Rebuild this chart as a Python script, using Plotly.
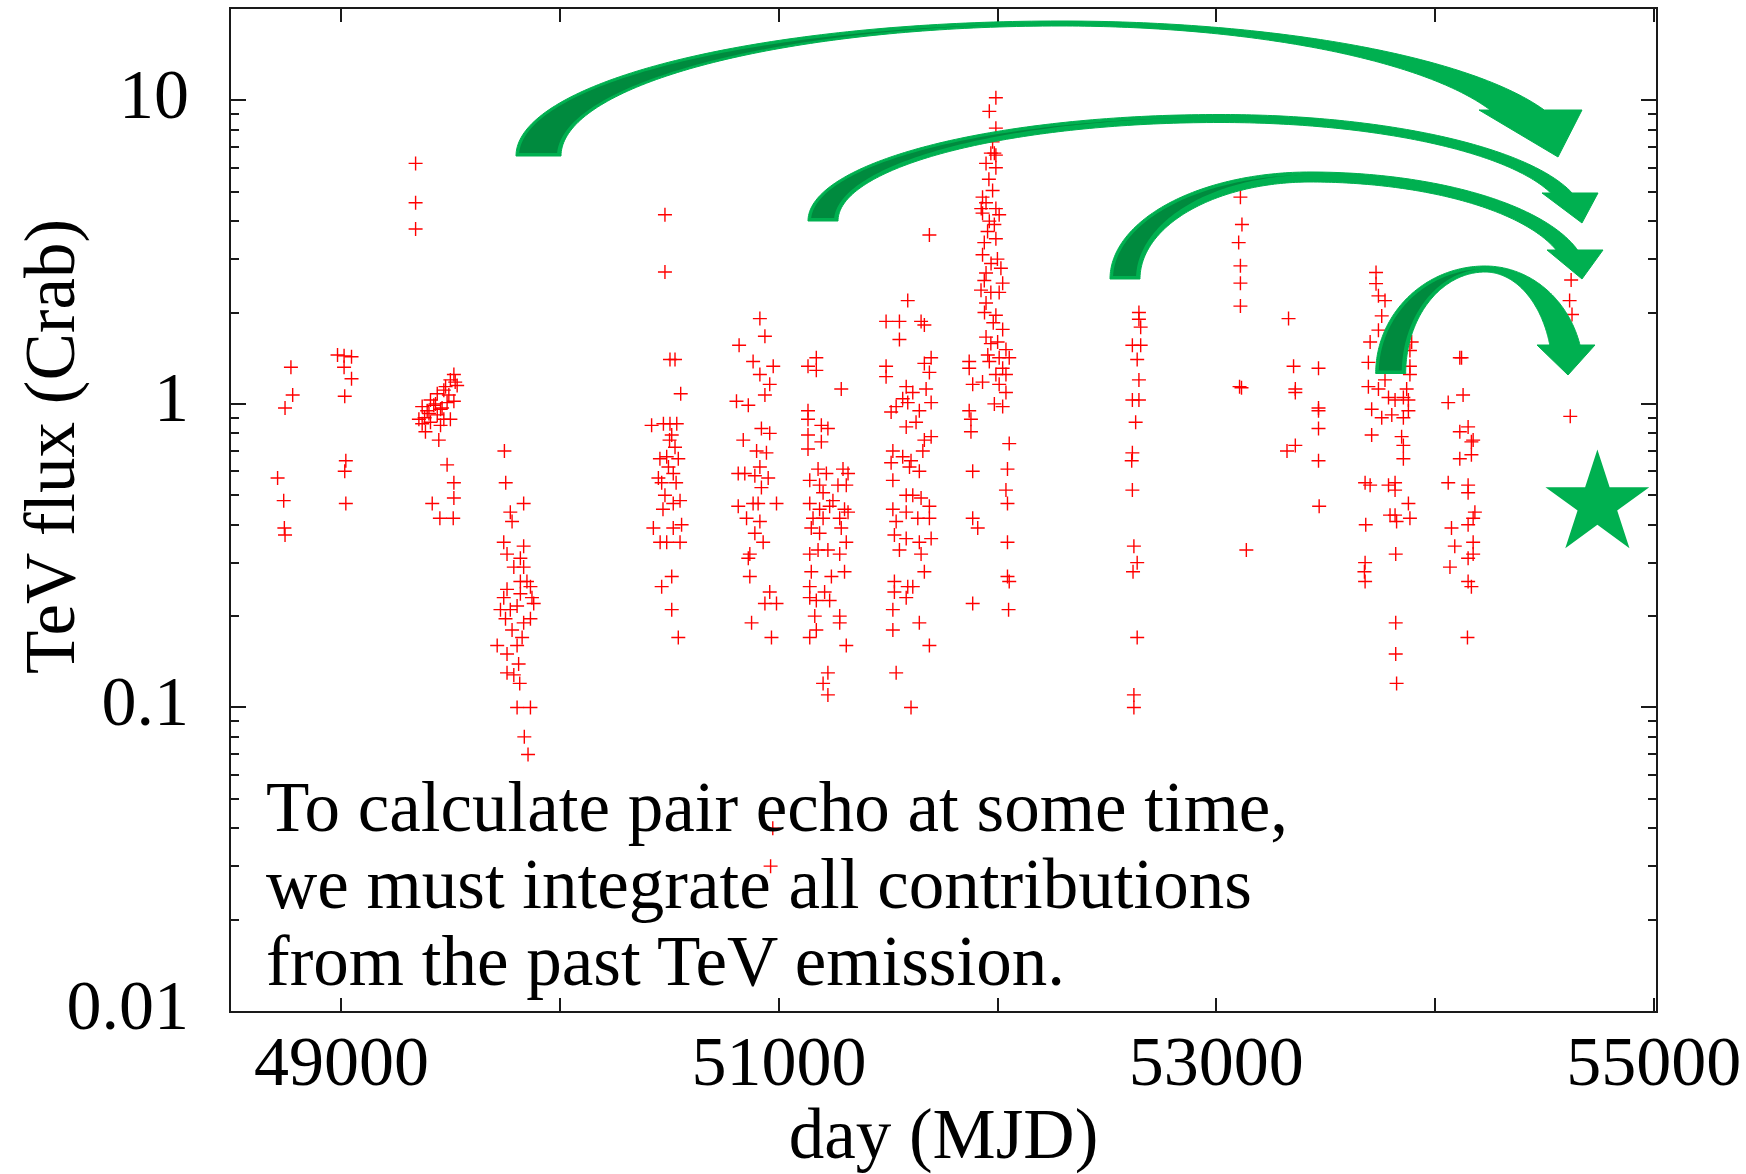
import math
import plotly.graph_objects as go

# ---------------- data ----------------
MJD_S1 = [48708, 48736, 48739, 48742, 48742, 48769, 48777]
FLUX_S1 = [0.57, 0.48, 0.39, 0.37, 0.97, 1.32, 1.07]

MJD_S2 = [48982, 49012, 49046, 49012, 49046, 49015, 49020, 49015, 49020]
FLUX_S2 = [1.45, 1.44, 1.43, 1.32, 1.21, 1.06, 0.65, 0.60, 0.47]

MJD_S3 = [49339, 49339, 49339]
FLUX_S3 = [6.2, 4.6, 3.77]

MJD_S4 = [49354, 49369, 49369, 49380, 49384, 49392, 49400, 49407, 49407, 49415,
          49422, 49430, 49438, 49438, 49445, 49450, 49453, 49453, 49460, 49468,
          49468, 49476, 49483, 49483, 49491, 49498, 49498, 49511, 49514, 49514,
          49514, 49514, 49520, 49529]
FLUX_S4 = [0.89, 0.98, 0.86, 0.90, 0.81, 0.95, 0.93, 1.03, 0.87, 0.47,
           0.99, 1.00, 1.08, 0.92, 0.76, 0.42, 0.96, 0.85, 0.97, 1.11,
           0.89, 1.14, 1.01, 0.63, 1.07, 1.20, 0.89, 0.42, 1.25, 1.02,
           0.55, 0.49, 1.18, 1.15]

MJD_S5 = [49745, 49751, 49833, 49772, 49780, 49742, 49757, 49833, 49818, 49788,
          49833, 49848, 49818, 49864, 49879, 49757, 49742, 49727, 49772, 49803,
          49864, 49833, 49780, 49826, 49712, 49803, 49757, 49810, 49757, 49788,
          49815, 49803, 49864, 49836, 49853, 49871, 49818, 49750]
FLUX_S5 = [0.70, 0.55, 0.47, 0.44, 0.41, 0.35, 0.32, 0.34, 0.31, 0.29,
           0.29, 0.26, 0.26, 0.25, 0.22, 0.245, 0.23, 0.21, 0.21, 0.216,
           0.196, 0.19, 0.18, 0.17, 0.16, 0.16, 0.15, 0.139, 0.13, 0.128,
           0.12, 0.10, 0.10, 0.080, 0.070, 0.23, 0.237, 0.196]

MJD_S6 = [50479, 50479, 50502, 50525, 50551, 50418, 50472, 50502, 50533, 50510,
          50456, 50487, 50525, 50540, 50517, 50449, 50464, 50479, 50548, 50517,
          50555, 50517, 50426, 50457, 50487, 50548, 50510, 50464, 50510, 50540,
          50495, 50530, 50470, 50500]
FLUX_S6 = [4.2, 2.72, 1.40, 1.40, 1.08, 0.85, 0.86, 0.86, 0.86, 0.79,
           0.66, 0.67, 0.72, 0.66, 0.59, 0.57, 0.55, 0.50, 0.48, 0.47,
           0.40, 0.39, 0.39, 0.35, 0.35, 0.35, 0.27, 0.25, 0.21, 0.17,
           0.62, 0.55, 0.45, 0.76]

MJD_S7 = [50913, 50936, 50882, 50974, 50913, 50958, 50936, 50860, 50837, 50920,
          50958, 50898, 50943, 50913, 50844, 50890, 50951, 50905, 50989, 50852,
          50913, 50890, 50928, 50867, 50860, 50867, 50958, 50936, 50989, 50875,
          50966, 50882, 50920, 50818, 50806, 50814, 50814, 50972, 50962]
FLUX_S7 = [1.91, 1.67, 1.38, 1.33, 1.25, 1.16, 1.07, 0.99, 0.76, 0.83,
           0.80, 0.70, 0.69, 0.62, 0.59, 0.58, 0.57, 0.47, 0.47, 0.42,
           0.41, 0.375, 0.35, 0.32, 0.31, 0.27, 0.24, 0.22, 0.22, 0.19,
           0.17, 0.47, 0.53, 1.56, 1.02, 0.59, 0.46, 0.040, 0.030]

MJD_S8 = [51171, 51133, 51171, 51285, 51133, 51133, 51194, 51224, 51133, 51194,
          51133, 51179, 51217, 51293, 51316, 51141, 51186, 51270, 51308, 51202,
          51247, 51300, 51141, 51186, 51232, 51316, 51156, 51202, 51278, 51148,
          51186, 51285, 51308, 51141, 51179, 51224, 51278, 51148, 51300, 51240,
          51141, 51209, 51171, 51232, 51141, 51164, 51278, 51278, 51141, 51171,
          51308, 51224, 51202, 51224]
FLUX_S8 = [1.42, 1.33, 1.29, 1.12, 0.95, 0.89, 0.85, 0.83, 0.79, 0.75,
           0.71, 0.61, 0.59, 0.61, 0.59, 0.56, 0.54, 0.54, 0.54, 0.51,
           0.48, 0.45, 0.47, 0.45, 0.46, 0.44, 0.42, 0.42, 0.42, 0.39,
           0.375, 0.39, 0.35, 0.32, 0.33, 0.33, 0.32, 0.28, 0.28, 0.27,
           0.25, 0.24, 0.225, 0.225, 0.23, 0.20, 0.20, 0.19, 0.17, 0.18,
           0.16, 0.13, 0.12, 0.11]

MJD_S9 = [51589, 51490, 51551, 51650, 51665, 51551, 51696, 51665, 51490, 51490,
          51688, 51582, 51612, 51566, 51673, 51589, 51513, 51536, 51642, 51696,
          51582, 51627, 51696, 51665, 51521, 51566, 51604, 51658, 51513, 51597,
          51642, 51521, 51582, 51612, 51650, 51521, 51582, 51688, 51536, 51635,
          51688, 51528, 51582, 51642, 51696, 51551, 51650, 51665, 51528, 51589,
          51612, 51528, 51582, 51521, 51642, 51521, 51688, 51536, 51604, 51688]
FLUX_S9 = [2.19, 1.87, 1.87, 1.87, 1.82, 1.63, 1.42, 1.36, 1.33, 1.23,
           1.27, 1.14, 1.09, 1.04, 1.12, 1.01, 0.94, 0.98, 0.95, 1.01,
           0.84, 0.87, 0.78, 0.76, 0.70, 0.67, 0.65, 0.70, 0.64, 0.62,
           0.60, 0.56, 0.50, 0.50, 0.49, 0.45, 0.44, 0.46, 0.41, 0.42,
           0.42, 0.37, 0.36, 0.35, 0.36, 0.33, 0.32, 0.28, 0.26, 0.25,
           0.25, 0.24, 0.23, 0.21, 0.19, 0.18, 0.16, 0.13, 0.10, 3.6]

MJD_S10 = [51992, 51962, 51992, 51977, 51985, 51969, 51992, 51947, 51992, 51977,
           51931, 51947, 51992, 51931, 52007, 51962, 51985, 51992, 51939, 51931,
           51999, 51947, 51939, 52023, 51924, 51969, 52007, 51947, 51992, 52023,
           51947, 51969, 52038, 52007, 52053, 52023, 51962, 51992, 52038, 51870,
           51870, 51886, 51931, 52007, 52038, 51985, 52023, 51870, 51878, 51878,
           52053, 51886, 52045, 52038, 52045, 51886, 51909, 52045, 52045, 52053,
           51886, 52050, 51954, 51970, 51940, 51980, 52000, 51955, 52015, 51925,
           51960]
FLUX_S10 = [10.2, 9.2, 8.1, 7.3, 6.7, 6.7, 6.6, 6.2, 6.0, 5.05,
            4.8, 4.6, 4.4, 4.25, 4.2, 4.0, 3.9, 3.5, 3.4, 3.1,
            3.0, 2.7, 2.55, 2.5, 2.37, 2.33, 2.33, 2.15, 1.96, 1.76,
            1.66, 1.58, 1.51, 1.42, 1.42, 1.31, 1.38, 1.25, 1.25, 1.38,
            1.31, 1.16, 1.18, 1.16, 1.09, 1.0, 0.98, 0.95, 0.89, 0.81,
            0.74, 0.60, 0.61, 0.52, 0.47, 0.42, 0.39, 0.35, 0.27, 0.26,
            0.22, 0.21, 3.7, 2.9, 2.0, 1.85, 1.6, 1.45, 2.8, 4.4,
            5.5]

MJD_S11 = [52646, 52646, 52654, 52616, 52654, 52638, 52646, 52616, 52646, 52631,
           52616, 52613, 52616, 52623, 52638, 52619, 52638, 52623, 52623]
FLUX_S11 = [2.0, 1.9, 1.79, 1.56, 1.56, 1.40, 1.20, 1.03, 1.03, 0.87,
            0.69, 0.65, 0.52, 0.34, 0.30, 0.28, 0.17, 0.11, 0.10]

MJD_S12 = [53110, 53117, 53102, 53110, 53110, 53110, 53106, 53115, 53137]
FLUX_S12 = [4.8, 3.9, 3.4, 2.85, 2.5, 2.1, 1.14, 1.13, 0.33]

MJD_S13 = [53330, 53353, 53467, 53361, 53361, 53467, 53467, 53467, 53361, 53323,
           53467, 53470]
FLUX_S13 = [1.91, 1.33, 1.31, 1.12, 1.09, 0.97, 0.95, 0.83, 0.73, 0.70,
            0.65, 0.46]

MJD_S14 = [53730, 53730, 53741, 53771, 53756, 53741, 53703, 53893, 53885, 53695,
           53885, 53885, 53771, 53695, 53741, 53870, 53787, 53855, 53878, 53817,
           53710, 53756, 53802, 53878, 53855, 53710, 53847, 53855, 53855, 53680,
           53703, 53787, 53817, 53817, 53878, 53817, 53794, 53885, 53824, 53683,
           53820, 53680, 53677, 53680, 53820, 53820, 53824]
FLUX_S14 = [2.71, 2.49, 2.27, 2.19, 1.95, 1.75, 1.60, 1.60, 1.50, 1.37,
            1.33, 1.25, 1.20, 1.14, 1.12, 1.12, 1.05, 1.05, 1.03, 1.03,
            0.96, 0.90, 0.92, 0.95, 0.90, 0.79, 0.78, 0.73, 0.66, 0.55,
            0.54, 0.54, 0.55, 0.52, 0.47, 0.43, 0.43, 0.42, 0.41, 0.40,
            0.32, 0.30, 0.28, 0.26, 0.19, 0.15, 0.12]

MJD_S15 = [54121, 54113, 54060, 54128, 54151, 54113, 54174, 54166, 54166, 54113,
           54060, 54151, 54151, 54182, 54174, 54151, 54075, 54174, 54090, 54174,
           54151, 54068, 54151, 54166, 54148]
FLUX_S15 = [1.42, 1.42, 1.01, 1.07, 0.84, 0.81, 0.76, 0.75, 0.68, 0.66,
            0.55, 0.54, 0.51, 0.44, 0.42, 0.40, 0.39, 0.35, 0.34, 0.32,
            0.31, 0.29, 0.26, 0.25, 0.17]

MJD_S16 = [54622, 54615, 54626, 54618]
FLUX_S16 = [2.56, 2.19, 1.97, 0.91]

STAR_MJD = [54742]
STAR_FLUX = [0.468]

X_TICKS = [49000, 50000, 51000, 52000, 53000, 54000, 55000]
X_TICK_TEXT = ["49000", "", "51000", "", "53000", "", "55000"]
Y_TICKS = [0.01, 0.1, 1, 10]
Y_TICK_TEXT = ["0.01", "0.1", "1", "10"]

NOTE_LINES = ["To calculate pair echo at some time,",
              "we must integrate all contributions",
              "from the past TeV emission."]

SEASONS_MJD = [MJD_S1, MJD_S2, MJD_S3, MJD_S4, MJD_S5, MJD_S6, MJD_S7, MJD_S8,
               MJD_S9, MJD_S10, MJD_S11, MJD_S12, MJD_S13, MJD_S14, MJD_S15, MJD_S16]
SEASONS_FLUX = [FLUX_S1, FLUX_S2, FLUX_S3, FLUX_S4, FLUX_S5, FLUX_S6, FLUX_S7, FLUX_S8,
                FLUX_S9, FLUX_S10, FLUX_S11, FLUX_S12, FLUX_S13, FLUX_S14, FLUX_S15, FLUX_S16]

mjd_all, flux_all = [], []
for m, f in zip(SEASONS_MJD, SEASONS_FLUX):
    for a, b in zip(m, f):
        mjd_all.append(a)
        flux_all.append(b)

# ---------------- layout geometry ----------------
FIG_W, FIG_H = 1746, 1174
M_L, M_R, M_T, M_B = 231, 90, 9, 163
PW = FIG_W - M_L - M_R
PH = FIG_H - M_T - M_B
FONT = "Liberation Serif"
GREEN = "#00B050"
DARK_GREEN = "#008A3E"
AXIS_COL = "#1a1a1a"


def to_paper(X, Y):
    return (X - M_L) / PW, (FIG_H - M_B - Y) / PH


# decorative curved arrows, in page pixels
ARROWS = [
    dict(cy=156, apex=1060, top=21, aL=544, aR=515, t_tail=45, t_top=5, t_right=55,
         head_y=110, head_xl=1479, head_xr=1582, tip=(1558, 157)),
    dict(cy=221, apex=1220, top=114.5, aL=412, aR=365, t_tail=30, t_top=8, t_right=20,
         head_y=193, head_xl=1542, head_xr=1598, tip=(1582, 223)),
    dict(cy=279, apex=1310, top=172, aL=200, aR=278, t_tail=30, t_top=10, t_right=20,
         head_y=250, head_xl=1547, head_xr=1603, tip=(1582, 279)),
    dict(cy=373.5, apex=1485, top=266, aL=109.3, aR=98.5, t_tail=30, t_top=6, t_right=31,
         head_y=345, head_xl=1537, head_xr=1595, tip=(1568, 375)),
]


def arrow_polys(a):
    cy, ax, b = a["cy"], a["apex"], a["cy"] - a["top"]
    aL, aR = a["aL"], a["aR"]
    bi = b - a["t_top"]
    aLi, aRi = aL - a["t_tail"], aR - a["t_right"]
    yb = a["head_y"]
    n = 90
    body = []
    for k in range(n + 1):
        t = (math.pi / 2) * k / n
        body.append((ax - aL * math.cos(t), cy - b * math.sin(t)))
    to = math.asin((cy - yb) / b)
    for k in range(n + 1):
        t = math.pi / 2 - (math.pi / 2 - to) * k / n
        body.append((ax + aR * math.cos(t), cy - b * math.sin(t)))
    body.append((a["head_xr"], yb))
    body.append(a["tip"])
    body.append((a["head_xl"], yb))
    ti = math.asin((cy - yb) / bi)
    for k in range(n + 1):
        t = ti + (math.pi / 2 - ti) * k / n
        body.append((ax + aRi * math.cos(t), cy - bi * math.sin(t)))
    for k in range(n + 1):
        t = (math.pi / 2) * (1 - k / n)
        body.append((ax - aLi * math.cos(t), cy - bi * math.sin(t)))
    ins = 3
    bd = b - ins
    t0 = math.asin(ins / bd)
    dark = []
    for k in range(n + 1):
        t = t0 + (math.pi / 2 - t0) * k / n
        dark.append((ax - (aL - ins) * math.cos(t), cy - bd * math.sin(t)))
    for k in range(n + 1):
        t = math.pi / 2 - (math.pi / 2 - t0) * k / n
        dark.append((ax - (aLi + 4) * math.cos(t), cy - bd * math.sin(t)))
    return body, dark


def path_of(pts):
    s = []
    for i, (X, Y) in enumerate(pts):
        px, py = to_paper(X, Y)
        s.append(("M" if i == 0 else "L") + f"{px:.5f},{py:.5f}")
    return " ".join(s) + " Z"


shapes = []
for a in ARROWS:
    body, dark = arrow_polys(a)
    shapes.append(dict(type="path", xref="paper", yref="paper", path=path_of(body),
                       fillcolor=GREEN, line=dict(color=GREEN, width=1), layer="above"))
    shapes.append(dict(type="path", xref="paper", yref="paper", path=path_of(dark),
                       fillcolor=DARK_GREEN, line=dict(width=0), layer="above"))

y_minor = [k * 10.0 ** e for e in (-2, -1, 0, 1) for k in range(2, 10) if k * 10.0 ** e < 19]

fig = go.Figure()
fig.add_trace(go.Scatter(
    x=mjd_all, y=flux_all, mode="markers",
    marker=dict(symbol="cross-thin", size=10, color="red",
                line=dict(color="red", width=1.4)),
    showlegend=False, hoverinfo="skip"))
fig.add_trace(go.Scatter(
    x=STAR_MJD, y=STAR_FLUX, mode="markers",
    marker=dict(symbol="star", size=78, color=GREEN, line=dict(width=0)),
    showlegend=False, hoverinfo="skip"))

annotations = []
note_y = [806.5, 883.5, 960.5]
for line, Y in zip(NOTE_LINES, note_y):
    px, py = to_paper(264, Y)
    annotations.append(dict(text=line, x=px, y=py, xref="paper", yref="paper",
                            xanchor="left", yanchor="middle", showarrow=False,
                            font=dict(family=FONT, size=71, color="black")))
tx, ty = to_paper(50, 447)
annotations.append(dict(text="TeV flux (Crab)", x=tx, y=ty, xref="paper", yref="paper",
                        xanchor="center", yanchor="middle", textangle=-90, showarrow=False,
                        font=dict(family=FONT, size=71, color="black")))

fig.update_layout(
    width=FIG_W, height=FIG_H,
    margin=dict(l=M_L, r=M_R, t=M_T, b=M_B, pad=0, autoexpand=False),
    paper_bgcolor="white", plot_bgcolor="white",
    shapes=shapes, annotations=annotations,
    xaxis=dict(range=[48495, 55010], showgrid=False, zeroline=False, automargin=False,
               showline=True, linecolor=AXIS_COL, linewidth=2, mirror="ticks",
               ticks="inside", ticklen=13, tickwidth=2, tickcolor=AXIS_COL,
               tickmode="array", tickvals=X_TICKS, ticktext=X_TICK_TEXT,
               ticklabelstandoff=-12,
               tickfont=dict(family=FONT, size=70, color="black"),
               title=dict(text="day (MJD)", standoff=27,
                          font=dict(family=FONT, size=71, color="black"))),
    yaxis=dict(type="log", range=[-2, math.log10(20)], showgrid=False, zeroline=False,
               automargin=False,
               showline=True, linecolor=AXIS_COL, linewidth=2, mirror="ticks",
               ticks="inside", ticklen=15, tickwidth=2, tickcolor=AXIS_COL,
               tickmode="array", tickvals=Y_TICKS, ticktext=Y_TICK_TEXT,
               ticklabelstandoff=26, ticklabelshift=-7,
               minor=dict(tickmode="array", tickvals=y_minor, ticks="inside",
                          ticklen=8, tickwidth=2, tickcolor=AXIS_COL, showgrid=False),
               tickfont=dict(family=FONT, size=70, color="black")),
)

fig.write_html("out.html")
